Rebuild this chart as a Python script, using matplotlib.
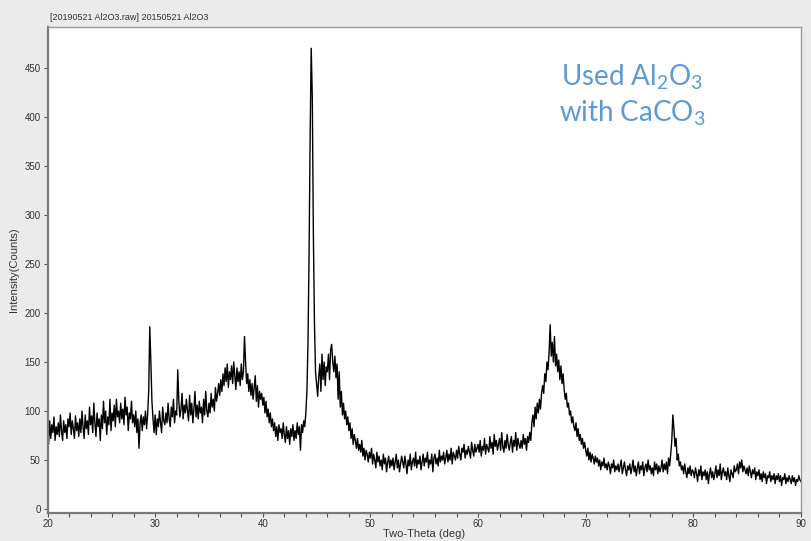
import matplotlib
matplotlib.use("Agg")
import matplotlib.pyplot as plt
import numpy as np
from matplotlib.ticker import MultipleLocator

# XRD scan, one value per 0.1 deg starting at 20 deg
start_deg = 20.0
step_deg = 0.1
counts = [
    80, 66, 90, 72, 86, 78, 94, 70, 84, 76,            # 20
    88, 74, 96, 80, 70, 90, 78, 86, 72, 92,            # 21
    84, 98, 76, 90, 82, 72, 95, 80, 88, 74,            # 22
    92, 78, 100, 84, 72, 96, 82, 90, 76, 104,          # 23
    86, 95, 78, 108, 88, 74, 98, 84, 92, 70,           # 24
    96, 82, 110, 88, 100, 76, 94, 86, 112, 80,         # 25
    98, 90, 106, 84, 112, 94, 100, 88, 108, 92,        # 26
    102, 86, 114, 96, 104, 80, 98, 92, 110, 88,        # 27
    96, 84, 100, 78, 92, 62, 88, 96, 80, 94,           # 28
    86, 100, 82, 96, 120, 186, 150, 110, 92, 78,       # 29
    96, 76, 92, 84, 100, 88, 78, 104, 90, 86,          # 30
    98, 88, 108, 92, 84, 104, 94, 112, 88, 100,        # 31
    96, 142, 110, 94, 102, 118, 92, 106, 98, 112,      # 32
    100, 90, 116, 96, 108, 88, 102, 120, 94, 106,      # 33
    92, 110, 98, 104, 88, 112, 96, 120, 100, 94,       # 34
    108, 98, 118, 104, 112, 100, 124, 110, 118, 128,   # 35
    116, 132, 120, 138, 126, 144, 130, 148, 124, 140,  # 36
    132, 146, 128, 150, 136, 122, 144, 130, 140, 126,  # 37
    148, 132, 140, 176, 150, 128, 138, 120, 132, 116,  # 38
    128, 112, 124, 136, 110, 126, 104, 120, 112, 118,  # 39
    106, 114, 98, 110, 94, 102, 88, 98, 84, 92,        # 40
    80, 88, 74, 84, 70, 86, 78, 82, 72, 88,            # 41
    76, 68, 84, 72, 80, 66, 82, 74, 86, 70,            # 42
    80, 72, 88, 76, 84, 60, 86, 78, 90, 84,            # 43
    98, 120, 170, 260, 380, 470, 420, 280, 190, 140,   # 44
    128, 115, 135, 148, 120, 158, 132, 150, 126, 145,  # 45
    140, 158, 132, 162, 168, 150, 140, 156, 134, 148,  # 46
    112, 140, 104, 120, 96, 108, 92, 100, 86, 94,      # 47
    80, 88, 72, 82, 66, 76, 70, 62, 72, 60,            # 48
    66, 58, 70, 54, 62, 50, 60, 56, 48, 58,            # 49
    52, 62, 46, 56, 50, 42, 58, 48, 54, 44,            # 50
    50, 40, 56, 46, 52, 38, 48, 54, 42, 50,            # 51
    44, 52, 40, 48, 56, 42, 50, 38, 46, 54,            # 52
    48, 42, 54, 46, 36, 50, 44, 56, 40, 48,            # 53
    52, 44, 58, 42, 50, 46, 54, 40, 48, 56,            # 54
    44, 52, 48, 58, 42, 50, 46, 56, 38, 52,            # 55
    56, 46, 52, 44, 60, 48, 54, 50, 58, 46,            # 56
    52, 60, 48, 56, 50, 62, 46, 58, 54, 50,            # 57
    60, 52, 64, 56, 50, 62, 58, 66, 52, 60,            # 58
    56, 64, 58, 52, 68, 60, 54, 66, 58, 62,            # 59
    66, 58, 70, 54, 64, 60, 72, 56, 66, 62,            # 60
    58, 74, 62, 68, 56, 76, 64, 70, 60, 66,            # 61
    72, 60, 78, 64, 58, 70, 62, 76, 66, 60,            # 62
    68, 74, 58, 70, 64, 78, 60, 72, 66, 62,            # 63
    70, 62, 76, 66, 72, 60, 74, 68, 78, 70,            # 64
    88, 96, 84, 104, 92, 108, 98, 112, 102, 118,       # 65
    126, 118, 138, 130, 150, 142, 160, 188, 156, 170,  # 66
    150, 176, 146, 158, 140, 152, 132, 146, 128, 138,  # 67
    122, 112, 118, 104, 108, 96, 100, 88, 94, 84,      # 68
    80, 88, 74, 82, 70, 76, 66, 72, 62, 68,            # 69
    60, 54, 62, 50, 58, 48, 56, 52, 46, 54,            # 70
    48, 52, 44, 50, 40, 48, 44, 52, 42, 46,            # 71
    40, 48, 44, 36, 46, 42, 50, 38, 44, 40,            # 72
    46, 38, 44, 50, 36, 42, 48, 40, 34, 44,            # 73
    40, 46, 36, 42, 50, 38, 44, 34, 42, 48,            # 74
    36, 44, 40, 48, 34, 42, 46, 38, 50, 40,            # 75
    44, 36, 42, 34, 48, 40, 46, 36, 44, 38,            # 76
    42, 50, 38, 46, 40, 48, 36, 52, 44, 56,            # 77
    70, 96, 82, 64, 72, 50, 56, 44, 48, 40,            # 78
    44, 36, 46, 38, 32, 42, 36, 44, 34, 40,            # 79
    38, 32, 42, 36, 28, 40, 34, 44, 30, 38,            # 80
    34, 40, 30, 38, 26, 36, 42, 32, 38, 30,            # 81
    36, 44, 32, 40, 34, 46, 30, 38, 42, 34,            # 82
    38, 30, 42, 34, 28, 40, 36, 32, 44, 38,            # 83
    40, 46, 36, 48, 42, 50, 38, 44, 40, 36,            # 84
    42, 34, 44, 38, 32, 40, 36, 42, 30, 38,            # 85
    34, 40, 30, 36, 28, 38, 32, 36, 26, 34,            # 86
    32, 38, 28, 34, 30, 36, 26, 34, 30, 36,            # 87
    28, 34, 24, 32, 30, 36, 26, 32, 28, 34,            # 88
    30, 26, 34, 28, 32, 24, 30, 28, 34, 30,            # 89
    28,                                                # 90
]
two_theta = start_deg + step_deg * np.arange(len(counts))

title_txt = "[20190521 Al2O3.raw] 20150521 Al2O3"
note_lines = [r"Used Al$\mathregular{_2}$O$\mathregular{_3}$",
              r"with CaCO$\mathregular{_3}$"]

plt.rcParams["font.family"] = ["Liberation Sans", "DejaVu Sans"]
fig = plt.figure(figsize=(8.11, 5.41), dpi=100, facecolor="#ebebeb")
ax = fig.add_axes([0.0586, 0.0518, 0.929, 0.8988])
ax.plot(two_theta, counts, color="black", lw=1.0)

ax.set_xlim(20, 90); ax.set_ylim(-4, 492)
ax.xaxis.set_major_locator(MultipleLocator(10)); ax.xaxis.set_minor_locator(MultipleLocator(2))
ax.yaxis.set_major_locator(MultipleLocator(50))
ax.tick_params(which="both", direction="out", length=3, width=0.8, color="#555555",
               labelsize=7, labelcolor="#333333", pad=2)
ax.tick_params(axis="x", which="major", pad=1)
for side in ["left", "bottom"]:
    ax.spines[side].set_color("#7a7a7a"); ax.spines[side].set_linewidth(1.6)
for side in ["top", "right"]:
    ax.spines[side].set_color("#9a9a9a"); ax.spines[side].set_linewidth(1.0)

ax.set_xlabel("Two-Theta (deg)", fontsize=8, color="#333333", labelpad=0)
ax.set_ylabel("Intensity(Counts)", fontsize=8, color="#333333", labelpad=4)
fig.text(50 / 811, 1 - 18 / 541, title_txt, fontsize=6.5, color="#333333", va="center", ha="left")

blue = "#5b9bd5"
fig.text(632 / 811, 1 - 77 / 541, note_lines[0], fontsize=20, color=blue, ha="center", va="center",
         family=["Lato", "DejaVu Sans"])
fig.text(632 / 811, 1 - 113 / 541, note_lines[1], fontsize=20, color=blue, ha="center", va="center",
         family=["Lato", "DejaVu Sans"])

fig.savefig("out.png", dpi=100, facecolor=fig.get_facecolor())
